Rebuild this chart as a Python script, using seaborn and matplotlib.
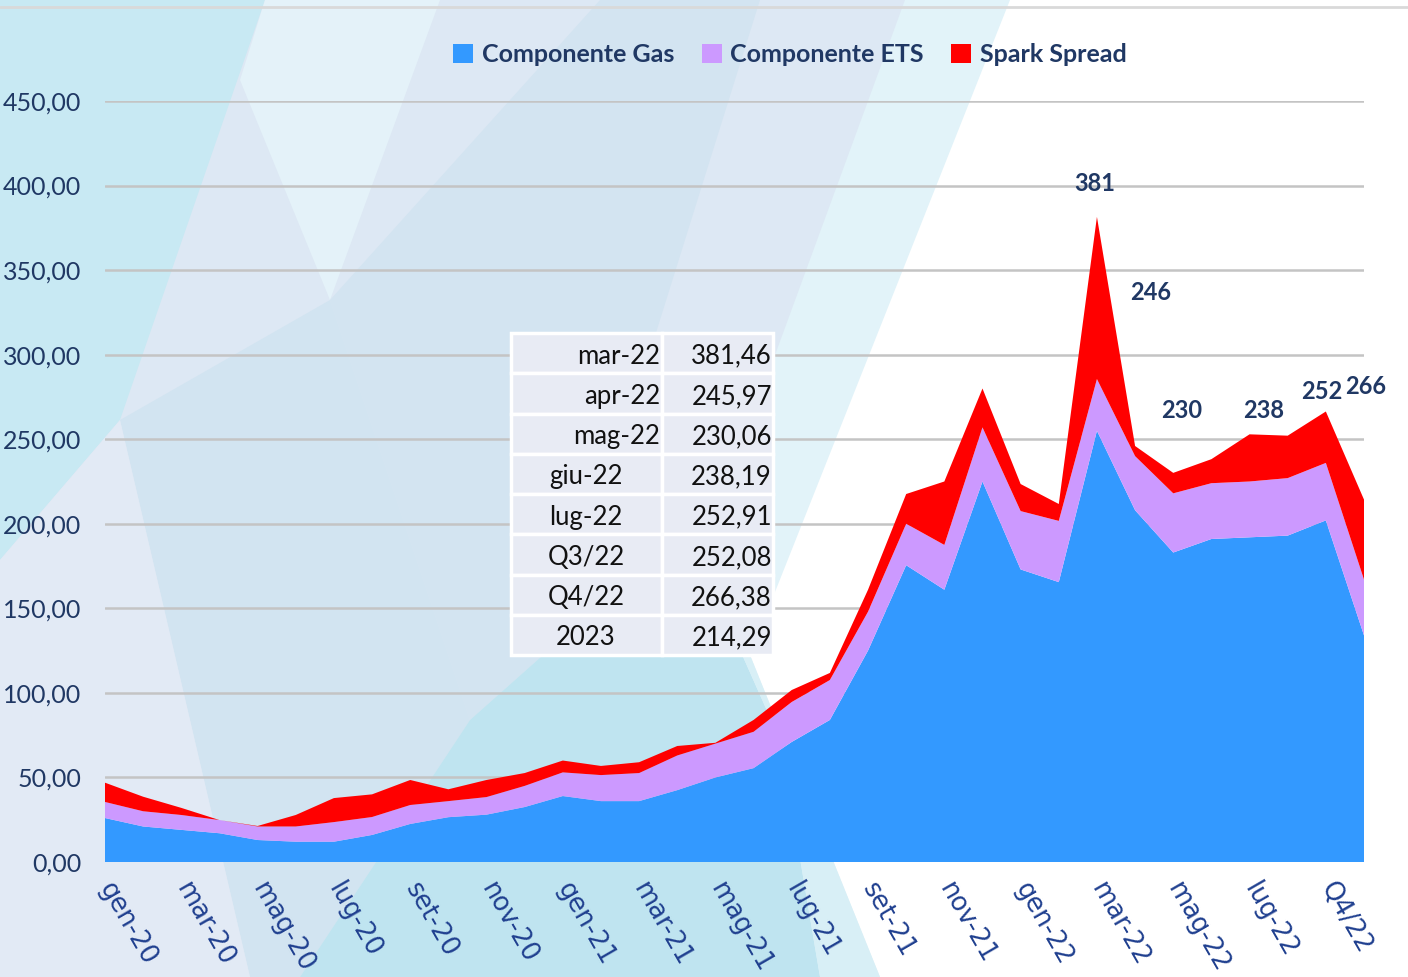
import numpy as np
import pandas as pd
import seaborn as sns
import matplotlib.pyplot as plt
from matplotlib.patches import Polygon, Rectangle, Patch
from matplotlib.ticker import FuncFormatter

# --- data -------------------------------------------------------------
months = ['gen-20', 'feb-20', 'mar-20', 'apr-20', 'mag-20', 'giu-20', 'lug-20', 'ago-20',
          'set-20', 'ott-20', 'nov-20', 'dic-20', 'gen-21', 'feb-21', 'mar-21', 'apr-21',
          'mag-21', 'giu-21', 'lug-21', 'ago-21', 'set-21', 'ott-21', 'nov-21', 'dic-21',
          'gen-22', 'feb-22', 'mar-22', 'apr-22', 'mag-22', 'giu-22', 'lug-22',
          'Q3/22', 'Q4/22', '2023']

gas = [26, 21, 19, 17, 13, 12, 12, 16, 22.5, 26.5, 28, 32.5, 39, 36, 36, 42.5,
       50, 55.5, 71, 84, 125, 175.5, 161, 225, 173, 165.5, 255, 208, 183, 191, 192,
       193, 202, 134]
ets = [9.5, 9, 8.8, 7.8, 8, 9, 11.6, 10.6, 11.2, 9.5, 10.4, 12.5, 14, 15.4, 16.6, 20.5,
       20, 21.5, 23.6, 23.6, 23, 24.5, 26.5, 32, 34.5, 36.2, 30.6, 32, 35, 33, 33,
       34, 34, 33]
spark = [11.4, 8.6, 4.2, 0, 0.3, 6.8, 14.2, 13.4, 14.8, 7, 10.1, 7.6, 7, 5.4, 6.4, 5.6,
         0.5, 7, 7.1, 4.2, 13, 17.6, 37.5, 23, 16, 10, 95.9, 6, 12.1, 14.2, 27.9,
         25.1, 30.4, 47.3]

series_names = ['Componente Gas', 'Componente ETS', 'Spark Spread']
series_colors = ['#3399ff', '#cc99ff', '#ff0000']

table_labels = ['mar-22', 'apr-22', 'mag-22', 'giu-22', 'lug-22', 'Q3/22', 'Q4/22', '2023']
table_values = ['381,46', '245,97', '230,06', '238,19', '252,91', '252,08', '266,38', '214,29']

peak_labels = ['381', '246', '230', '238', '252', '266']

df = pd.DataFrame({'mese': months, 'gas': gas, 'ets': ets, 'spark': spark})
df['x'] = np.arange(len(df))

# --- style --------------------------------------------------------------
sns.set_theme(style='white')
plt.rcParams['font.family'] = ['Lato', 'DejaVu Sans']
navy = '#203864'

W, H = 1408, 977
fig = plt.figure(figsize=(W / 100, H / 100), dpi=100)
fig.patch.set_facecolor('white')

# background decoration, pixel coords
bg = fig.add_axes([0, 0, 1, 1], zorder=0)
bg.set_xlim(0, W)
bg.set_ylim(H, 0)
bg.axis('off')
shapes = [
    ('#e2f3f9', [(0, 0), (1010, 0), (750, 655), (880, 977), (0, 977)]),
    ('#dde8f4', [(0, 0), (905, 0), (700, 560), (820, 977), (0, 977)]),
    ('#c8e9f3', [(0, 0), (265, 0), (120, 420), (0, 560)]),
    ('#e4f2f9', [(265, 0), (440, 0), (330, 300), (240, 80)]),
    ('#d3e4f1', [(330, 300), (600, 0), (760, 0), (560, 640), (470, 720)]),
    ('#d2e4f1', [(120, 420), (330, 300), (470, 720), (300, 977), (250, 977)]),
    ('#e2eaf5', [(0, 560), (120, 420), (250, 977), (0, 977)]),
    ('#bfe4f0', [(300, 977), (470, 720), (560, 640), (700, 560), (780, 740), (820, 977)]),
    ('#d8eff6', [(700, 560), (750, 655), (880, 977), (820, 977), (780, 740)]),
]
for col, pts in shapes:
    bg.add_patch(Polygon(pts, closed=True, facecolor=col, edgecolor='none'))
bg.plot([0, W], [7, 7], color='#d9d9d9', lw=2)

# --- main chart ---------------------------------------------------------
ax = fig.add_axes([105 / W, 1 - 862 / H, 1259 / W, 761 / H], zorder=2)
ax.patch.set_alpha(0)
ax.stackplot(df['x'], df['gas'], df['ets'], df['spark'],
             colors=series_colors, labels=series_names, zorder=3,
             edgecolor='none', linewidth=0)
ax.set_xlim(0, len(df) - 1)
ax.set_ylim(0, 450)
ax.set_yticks(np.arange(0, 451, 50))
ax.yaxis.set_major_formatter(FuncFormatter(lambda v, p: f'{v:.2f}'.replace('.', ',')))
ax.grid(axis='y', color='#c4c4c4', lw=1.8, zorder=1)
ax.grid(axis='x', visible=False)
ax.set_axisbelow(True)
sns.despine(ax=ax, left=True, bottom=True)

ax.set_xticks(df['x'][::2])
ax.set_xticklabels(df['mese'][::2], rotation=-60, ha='left', va='center',
                   rotation_mode='anchor', fontsize=18.5, color='#1f3f8f',
                   family='DejaVu Sans')
ax.tick_params(axis='x', length=0, pad=16)
ax.tick_params(axis='y', length=0, pad=17, labelsize=18, labelcolor=navy)
ax.set_xlabel('')
ax.set_ylabel('')

# value labels near the peaks
label_pos = [(25.95, 401), (27.42, 337), (28.23, 267), (30.38, 267), (31.9, 278), (33.05, 281)]
for txt, (lx, ly) in zip(peak_labels, label_pos):
    ax.text(lx, ly, txt, ha='center', va='center', fontsize=17, fontweight='bold',
            color=navy, zorder=5, clip_on=False)

# legend
handles = [Patch(facecolor=c, edgecolor='none') for c in series_colors]
fig.legend(handles, series_names, loc='center', bbox_to_anchor=(790 / W, 1 - 55 / H),
           ncol=3, frameon=False, handlelength=0.8, handleheight=0.8,
           handletextpad=0.35, columnspacing=1.1,
           prop={'family': 'Lato', 'weight': 'bold', 'size': 18},
           labelcolor=navy)

# --- inset table ---------------------------------------------------------
tb = fig.add_axes([0, 0, 1, 1], zorder=4)
tb.set_xlim(0, W)
tb.set_ylim(H, 0)
tb.axis('off')
tb.patch.set_alpha(0)
x0, xm, x1 = 511, 662, 773
y0, rh = 333, 40.25
for i, (lab, val) in enumerate(zip(table_labels, table_values)):
    yt = y0 + i * rh
    tb.add_patch(Rectangle((x0, yt), xm - x0, rh, facecolor='#e8ebf4', edgecolor='white', lw=2.5))
    tb.add_patch(Rectangle((xm, yt), x1 - xm, rh, facecolor='#e8ebf4', edgecolor='white', lw=2.5))
    if i < 3:
        tb.text(xm - 2, yt + rh / 2 + 3, lab, ha='right', va='center', fontsize=18.5, color='#111111')
    else:
        tb.text(586, yt + rh / 2 + 3, lab, ha='center', va='center', fontsize=18.5, color='#111111')
    tb.text(x1 - 1, yt + rh / 2 + 3, val, ha='right', va='center', fontsize=18.5, color='#111111')

fig.savefig('out.png', dpi=100)
